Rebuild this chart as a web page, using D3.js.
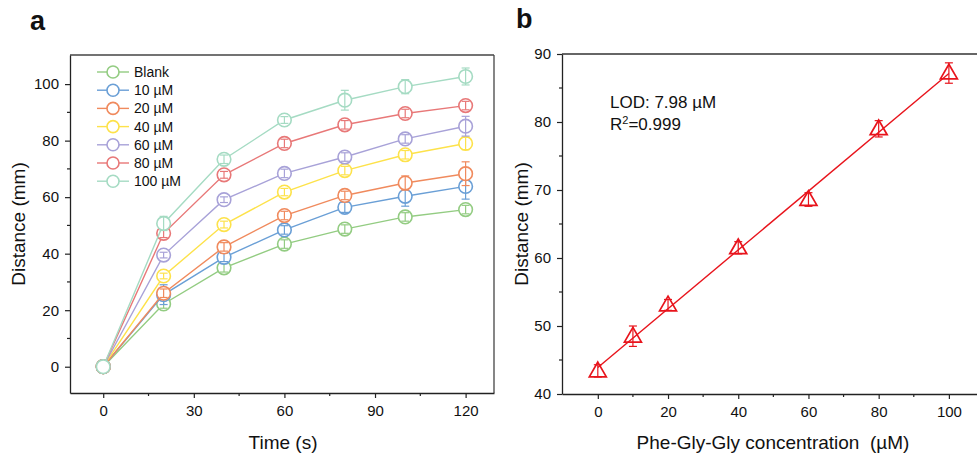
<!DOCTYPE html>
<html lang="en">
<head>
    <meta charset="UTF-8">
    <title>Distance vs time and calibration</title>
    <script src="https://d3js.org/d3.v7.min.js"></script>
    <style>
        body { margin: 0; background: #fff; font-family: "Liberation Sans", Arial, sans-serif; }
        svg { display: block; }
        .tick text { font-size: 15px; fill: #111; }
    </style>
</head>
<body>
    <div id="chart"></div>
    <script>
        // ---- data, panel a ----
        const times = [0, 20, 40, 60, 80, 100, 120];
        const seriesNames = ["Blank", "10 \u00b5M", "20 \u00b5M", "40 \u00b5M", "60 \u00b5M", "80 \u00b5M", "100 \u00b5M"];
        const seriesColors = ["#93cc82", "#6a9fd6", "#f08a5d", "#fde24a", "#a8a2d8", "#e87878", "#a5dbc3"];
        const blank   = [0, 22.2, 35.0, 43.4, 48.7, 53.0, 55.6];
        const c10     = [0, 25.5, 38.7, 48.4, 56.4, 60.3, 63.8];
        const c20     = [0, 26.0, 42.4, 53.5, 60.6, 65.0, 68.3];
        const c40     = [0, 32.1, 50.3, 61.8, 69.4, 75.0, 79.0];
        const c60     = [0, 39.5, 59.1, 68.4, 74.2, 80.6, 85.1];
        const c80     = [0, 47.2, 67.9, 79.0, 85.6, 89.6, 92.4];
        const c100    = [0, 50.7, 73.4, 87.3, 94.3, 99.1, 102.7];
        const blankErr = [0, 1.5, 1.5, 1.5, 1.5, 1.5, 1.5];
        const c10Err   = [0, 3.5, 1.5, 1.5, 1.8, 3.5, 4.5];
        const c20Err   = [0, 1.5, 1.5, 1.5, 1.5, 2.5, 4.2];
        const c40Err   = [0, 1.0, 1.2, 1.3, 1.5, 1.5, 2.2];
        const c60Err   = [0, 1.0, 1.0, 1.5, 1.5, 1.5, 3.5];
        const c80Err   = [0, 1.5, 1.2, 1.5, 1.5, 1.5, 1.5];
        const c100Err  = [0, 2.5, 1.5, 1.2, 3.5, 2.5, 3.0];
        const seriesValues = [blank, c10, c20, c40, c60, c80, c100];
        const seriesErrors = [blankErr, c10Err, c20Err, c40Err, c60Err, c80Err, c100Err];
        const timeTicks = [0, 30, 60, 90, 120];
        const distTicksA = [0, 20, 40, 60, 80, 100];

        // ---- data, panel b ----
        const conc = [0, 10, 20, 40, 60, 80, 100];
        const concDist = [43.4, 48.5, 53.1, 61.5, 68.6, 79.0, 87.2];
        const concErr = [0.9, 1.5, 0.8, 0.9, 1.0, 1.2, 1.5];
        const concTicks = [0, 20, 40, 60, 80, 100];
        const distTicksB = [40, 50, 60, 70, 80, 90];

        const W = 977, H = 459;
        const svg = d3.select("#chart").append("svg").attr("width", W).attr("height", H);

        const axisColor = "#222";

        function styleAxis(g) {
            g.select(".domain").attr("stroke", axisColor).attr("stroke-width", 1.3);
            g.selectAll(".tick line").attr("stroke", axisColor).attr("stroke-width", 1.2);
        }

        function minorTicks(g, scale, values, orient, len) {
            values.forEach(v => {
                const p = scale(v);
                if (orient === "left") {
                    g.append("line").attr("x1", 0).attr("x2", -len).attr("y1", p).attr("y2", p)
                        .attr("stroke", axisColor).attr("stroke-width", 1.2);
                } else {
                    g.append("line").attr("y1", 0).attr("y2", len).attr("x1", p).attr("x2", p)
                        .attr("stroke", axisColor).attr("stroke-width", 1.2);
                }
            });
        }

        // ================= panel a =================
        const xA = d3.scaleLinear().domain([-11, 129.4]).range([70, 494]);
        const yA = d3.scaleLinear().domain([-9.3, 110.3]).range([393, 55]);

        // frame top/right
        svg.append("line").attr("x1", 70).attr("x2", 494).attr("y1", 55).attr("y2", 55)
            .attr("stroke", "#444").attr("stroke-width", 1.3);
        svg.append("line").attr("x1", 494).attr("x2", 494).attr("y1", 55).attr("y2", 393)
            .attr("stroke", "#444").attr("stroke-width", 1.3);

        const axA_x = svg.append("g").attr("transform", "translate(0,393)")
            .call(d3.axisBottom(xA).tickValues(timeTicks).tickSize(5).tickPadding(7).tickSizeOuter(0));
        styleAxis(axA_x);
        minorTicks(axA_x, xA, [15, 45, 75, 105], "bottom", 3);

        const axA_y = svg.append("g").attr("transform", "translate(70,0)")
            .call(d3.axisLeft(yA).tickValues(distTicksA).tickSize(5).tickPadding(6).tickSizeOuter(0));
        styleAxis(axA_y);
        minorTicks(axA_y, yA, [10, 30, 50, 70, 90], "left", 3);

        const line = d3.line().x((d, i) => xA(times[i])).y(d => yA(d));

        seriesValues.forEach((vals, s) => {
            const col = seriesColors[s];
            const g = svg.append("g");
            g.append("path").datum(vals).attr("d", line)
                .attr("fill", "none").attr("stroke", col).attr("stroke-width", 1.4);
            g.selectAll("circle").data(vals).join("circle")
                .attr("cx", (d, i) => xA(times[i])).attr("cy", d => yA(d)).attr("r", 6.8)
                .attr("fill", "#fff").attr("stroke", col).attr("stroke-width", 1.6);
            const errs = seriesErrors[s];
            vals.forEach((v, i) => {
                if (!errs[i]) return;
                const x = xA(times[i]);
                const y1 = yA(v - errs[i]), y2 = yA(v + errs[i]);
                g.append("line").attr("x1", x).attr("x2", x).attr("y1", y1).attr("y2", y2)
                    .attr("stroke", col).attr("stroke-width", 1.2);
                [y1, y2].forEach(yy => g.append("line").attr("x1", x - 4).attr("x2", x + 4)
                    .attr("y1", yy).attr("y2", yy).attr("stroke", col).attr("stroke-width", 1.2));
            });
        });

        // legend
        const legend = svg.append("g");
        seriesNames.forEach((name, s) => {
            const y = 72 + s * 18.2;
            legend.append("line").attr("x1", 97).attr("x2", 129).attr("y1", y).attr("y2", y)
                .attr("stroke", seriesColors[s]).attr("stroke-width", 1.4);
            legend.append("circle").attr("cx", 113).attr("cy", y).attr("r", 6)
                .attr("fill", "#fff").attr("stroke", seriesColors[s]).attr("stroke-width", 1.6);
            legend.append("text").attr("x", 134).attr("y", y + 5).text(name)
                .attr("font-size", 14).attr("fill", "#111");
        });

        svg.append("text").attr("x", 283).attr("y", 449).attr("text-anchor", "middle")
            .attr("font-size", 19).attr("fill", "#111").text("Time (s)");
        svg.append("text").attr("transform", "translate(25,224) rotate(-90)").attr("text-anchor", "middle")
            .attr("font-size", 19).attr("fill", "#111").text("Distance (mm)");
        svg.append("text").attr("x", 30).attr("y", 30).attr("font-size", 27).attr("font-weight", "bold")
            .attr("fill", "#111").text("a");

        // ================= panel b =================
        const xB = d3.scaleLinear().domain([-10.2, 110]).range([562, 984]);
        const yB = d3.scaleLinear().domain([40, 90]).range([394, 54]);

        svg.append("line").attr("x1", 562).attr("x2", 984).attr("y1", 54).attr("y2", 54)
            .attr("stroke", "#333").attr("stroke-width", 1.3);

        const axB_x = svg.append("g").attr("transform", "translate(0,394)")
            .call(d3.axisBottom(xB).tickValues(concTicks).tickSize(5).tickPadding(7).tickSizeOuter(0));
        styleAxis(axB_x);
        minorTicks(axB_x, xB, [10, 30, 50, 70, 90], "bottom", 3);

        const axB_y = svg.append("g").attr("transform", "translate(562,0)")
            .call(d3.axisLeft(yB).tickValues(distTicksB).tickSize(5).tickPadding(6).tickSizeOuter(0));
        styleAxis(axB_y);
        minorTicks(axB_y, yB, [45, 55, 65, 75, 85], "left", 3);

        // least squares fit
        const mx = d3.mean(conc), my = d3.mean(concDist);
        const slope = d3.sum(conc, (c, i) => (c - mx) * (concDist[i] - my)) / d3.sum(conc, c => (c - mx) ** 2);
        const icpt = my - slope * mx;
        const red = "#e8141c";
        svg.append("line")
            .attr("x1", xB(0)).attr("y1", yB(icpt))
            .attr("x2", xB(100)).attr("y2", yB(icpt + slope * 100))
            .attr("stroke", red).attr("stroke-width", 1.4);

        const tri = d3.symbol().type(d3.symbolTriangle).size(125);
        conc.forEach((c, i) => {
            const x = xB(c), y = yB(concDist[i]);
            svg.append("path").attr("d", tri).attr("transform", `translate(${x},${y + 1})`)
                .attr("fill", "none").attr("stroke", red).attr("stroke-width", 1.7);
            const y1 = yB(concDist[i] - concErr[i]), y2 = yB(concDist[i] + concErr[i]);
            svg.append("line").attr("x1", x).attr("x2", x).attr("y1", y1).attr("y2", y2)
                .attr("stroke", red).attr("stroke-width", 1.2);
            [y1, y2].forEach(yy => svg.append("line").attr("x1", x - 4).attr("x2", x + 4)
                .attr("y1", yy).attr("y2", yy).attr("stroke", red).attr("stroke-width", 1.2));
        });

        svg.append("text").attr("x", 610).attr("y", 108).attr("font-size", 17).attr("fill", "#111")
            .text("LOD: 7.98 \u00b5M");
        const r2 = svg.append("text").attr("x", 610).attr("y", 130).attr("font-size", 17).attr("fill", "#111");
        r2.append("tspan").text("R");
        r2.append("tspan").attr("font-size", 11).attr("dy", -6).text("2");
        r2.append("tspan").attr("dy", 6).text("=0.999");

        svg.append("text").attr("x", 773).attr("y", 449).attr("text-anchor", "middle")
            .attr("font-size", 19).attr("fill", "#111").attr("xml:space", "preserve")
            .style("white-space", "pre").text("Phe-Gly-Gly concentration  (\u00b5M)");
        svg.append("text").attr("transform", "translate(528,224) rotate(-90)").attr("text-anchor", "middle")
            .attr("font-size", 19).attr("fill", "#111").text("Distance (mm)");
        svg.append("text").attr("x", 516).attr("y", 28).attr("font-size", 27).attr("font-weight", "bold")
            .attr("fill", "#111").text("b");
    </script>
</body>
</html>
